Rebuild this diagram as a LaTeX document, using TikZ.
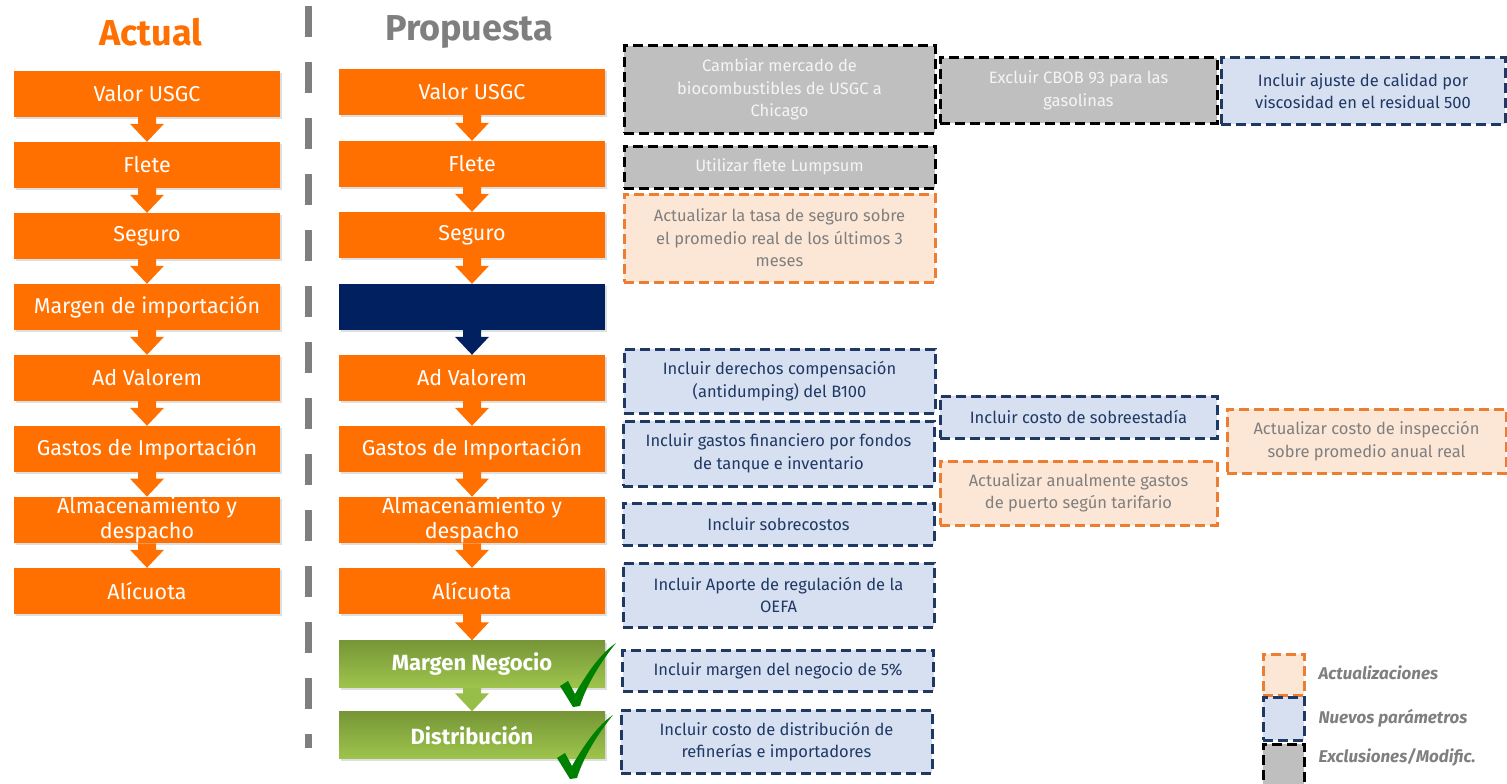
\documentclass[tikz,border=0pt]{standalone}
\usepackage{fontspec}
\setmainfont{Fira Sans}
\usetikzlibrary{calc,shadows}
\definecolor{orM}{RGB}{255,112,0}
\definecolor{navyM}{RGB}{0,32,96}
\definecolor{grT}{RGB}{127,127,127}
\definecolor{gTop}{RGB}{118,150,55}
\definecolor{gBot}{RGB}{158,196,76}
\definecolor{gArr}{RGB}{150,190,72}
\definecolor{chk}{RGB}{0,128,0}
\definecolor{exFill}{RGB}{191,191,191}
\definecolor{exText}{RGB}{245,245,245}
\definecolor{nvFill}{RGB}{214,224,240}
\definecolor{nvLine}{RGB}{31,56,100}
\definecolor{upFill}{RGB}{252,230,214}
\definecolor{upLine}{RGB}{237,125,49}
\newcommand\flowarr[3]{%
  \fill[#1] ($(#2.south)+(-9,0)$) -- ($(#2.south)+(9,0)$) -- ($(#3.north)+(9,-18)$) -- ($(#3.north)+(17,-18)$) -- (#3.north) -- ($(#3.north)+(-17,-18)$) -- ($(#3.north)+(-9,-18)$) -- cycle;}
\tikzset{
  mainbox/.style={minimum width=266pt, minimum height=46pt, inner sep=0pt, text=white,
    font=\fontsize{21.5}{25}\selectfont, align=center,
    drop shadow={opacity=0.25, shadow xshift=2pt, shadow yshift=-2pt}},
  obox/.style={mainbox, fill=orM},
  nbox/.style={mainbox, fill=navyM},
  gbox/.style={mainbox, minimum height=47pt, top color=gTop, bottom color=gBot,
    font=\fontsize{22}{25}\selectfont\bfseries},
  note/.style={minimum width=311pt, inner sep=0pt, align=center,
    font=\fontsize{16.5}{22.5}\selectfont, line width=3pt, dash pattern=on 10pt off 5pt},
  exnote/.style={note, fill=exFill, draw=black, text=exText},
  nvnote/.style={note, fill=nvFill, draw=nvLine, text=nvLine},
  upnote/.style={note, fill=upFill, draw=upLine, text=grT},
  legtext/.style={anchor=west, text=grT, font=\fontsize{17}{20}\selectfont\bfseries\itshape},
  checkmk/.pic={\fill[chk] (0,0) -- (-13,-21) -- (-5,-26) -- (2,-13)
     .. controls (14,-34) and (28,-54) .. (43,-64)
     .. controls (30,-48) and (14,-24) .. (7,-1) -- cycle;}
}
\begin{document}
\begin{tikzpicture}[x=1pt,y=-1pt]
\path[use as bounding box, fill=white] (0,0) rectangle (1507,784);
% titles
\node[font=\fontsize{36}{40}\selectfont\bfseries, text=orM] (tA) at (151,32) {Actual};
\node[font=\fontsize{36}{40}\selectfont\bfseries, text=grT] (tP) at (469,32) {Propuesta};
% dashed divider
\draw[grT, line width=7pt, dash pattern=on 31pt off 25pt] (308,6) -- (308,748);
% left column
\node[obox] (l1) at (147,94) {Valor USGC};
\node[obox] (l2) at (147,165) {Flete};
\node[obox] (l3) at (147,236) {Seguro};
\node[obox] (l4) at (147,307) {Margen de importación};
\node[obox] (l5) at (147,378) {Ad Valorem};
\node[obox] (l6) at (147,449) {Gastos de Importación};
\node[obox] (l7) at (147,520) {Almacenamiento y\\despacho};
\node[obox] (l8) at (147,591) {Alícuota};
\flowarr{orM}{l1}{l2}
\flowarr{orM}{l2}{l3}
\flowarr{orM}{l3}{l4}
\flowarr{orM}{l4}{l5}
\flowarr{orM}{l5}{l6}
\flowarr{orM}{l6}{l7}
\flowarr{orM}{l7}{l8}
% right column
\node[obox] (r1) at (472,92) {Valor USGC};
\node[obox] (r2) at (472,164) {Flete};
\node[obox] (r3) at (472,235) {Seguro};
\node[nbox] (r4) at (472,307) {};
\node[obox] (r5) at (472,378) {Ad Valorem};
\node[obox] (r6) at (472,449) {Gastos de Importación};
\node[obox] (r7) at (472,520) {Almacenamiento y\\despacho};
\node[obox] (r8) at (472,591) {Alícuota};
\node[gbox] (r9) at (472,664) {Margen Negocio};
\node[gbox] (r10) at (472,735) {Distribución};
\flowarr{orM}{r1}{r2}
\flowarr{orM}{r2}{r3}
\flowarr{orM}{r3}{r4}
\flowarr{navyM}{r4}{r5}
\flowarr{orM}{r5}{r6}
\flowarr{orM}{r6}{r7}
\flowarr{orM}{r7}{r8}
\flowarr{orM}{r8}{r9}
\flowarr{gArr}{r9}{r10}
\pic at (573,707) {checkmk};
\pic at (570,779) {checkmk};
% notes column A
\node[exnote, minimum height=87pt] (a1) at (779.5,89.5) {Cambiar mercado de\\biocombustibles de USGC a\\Chicago};
\node[exnote, minimum height=42pt] (a2) at (779.5,167) {Utilizar flete Lumpsum};
\node[upnote, minimum height=88pt] (a3) at (779.5,238) {Actualizar la tasa de seguro sobre\\el promedio real de los últimos 3\\meses};
\node[nvnote, minimum height=64pt] (a4) at (779.5,381) {Incluir derechos compensación\\(antidumping) del B100};
\node[nvnote, minimum height=65pt] (a5) at (778.5,453.5) {Incluir gastos financiero por fondos\\de tanque e inventario};
\node[nvnote, minimum height=42pt] (a6) at (778.5,524) {Incluir sobrecostos};
\node[nvnote, minimum height=64pt] (a7) at (778.5,595) {Incluir Aporte de regulación de la\\OEFA};
\node[nvnote, minimum height=41pt] (a8) at (778,670.5) {Incluir margen del negocio de 5\%};
\node[nvnote, minimum height=63pt] (a9) at (776.5,741.5) {Incluir costo de distribución de\\refinerías e importadores};
% notes column B
\node[exnote, minimum width=277pt, minimum height=65pt] (b1) at (1078.5,90.5) {Excluir CBOB 93 para las\\gasolinas};
\node[nvnote, minimum width=277pt, minimum height=42pt] (b2) at (1078.5,417) {Incluir costo de sobreestadía};
\node[upnote, minimum width=277pt, minimum height=64pt] (b3) at (1078.5,493) {Actualizar anualmente gastos\\de puerto según tarifario};
% notes column C
\node[nvnote, minimum width=284pt, minimum height=66pt] (c1) at (1363,91) {Incluir ajuste de calidad por\\viscosidad en el residual 500};
\node[upnote, minimum width=279pt, minimum height=64pt] (c2) at (1366.5,441) {Actualizar costo de inspección\\sobre promedio anual real};
% legend
\node[upnote, minimum width=41pt, minimum height=41pt] (k1) at (1283.5,674.5) {};
\node[nvnote, minimum width=41pt, minimum height=43pt] (k2) at (1283.5,718.5) {};
\node[exnote, minimum width=41pt, minimum height=42pt] (k3) at (1283.5,765) {};
\node[legtext] (k1t) at (1315,673) {Actualizaciones};
\node[legtext] (k2t) at (1315,718) {Nuevos parámetros};
\node[legtext] (k3t) at (1315,757) {Exclusiones/Modific.};
\end{tikzpicture}
\end{document}
